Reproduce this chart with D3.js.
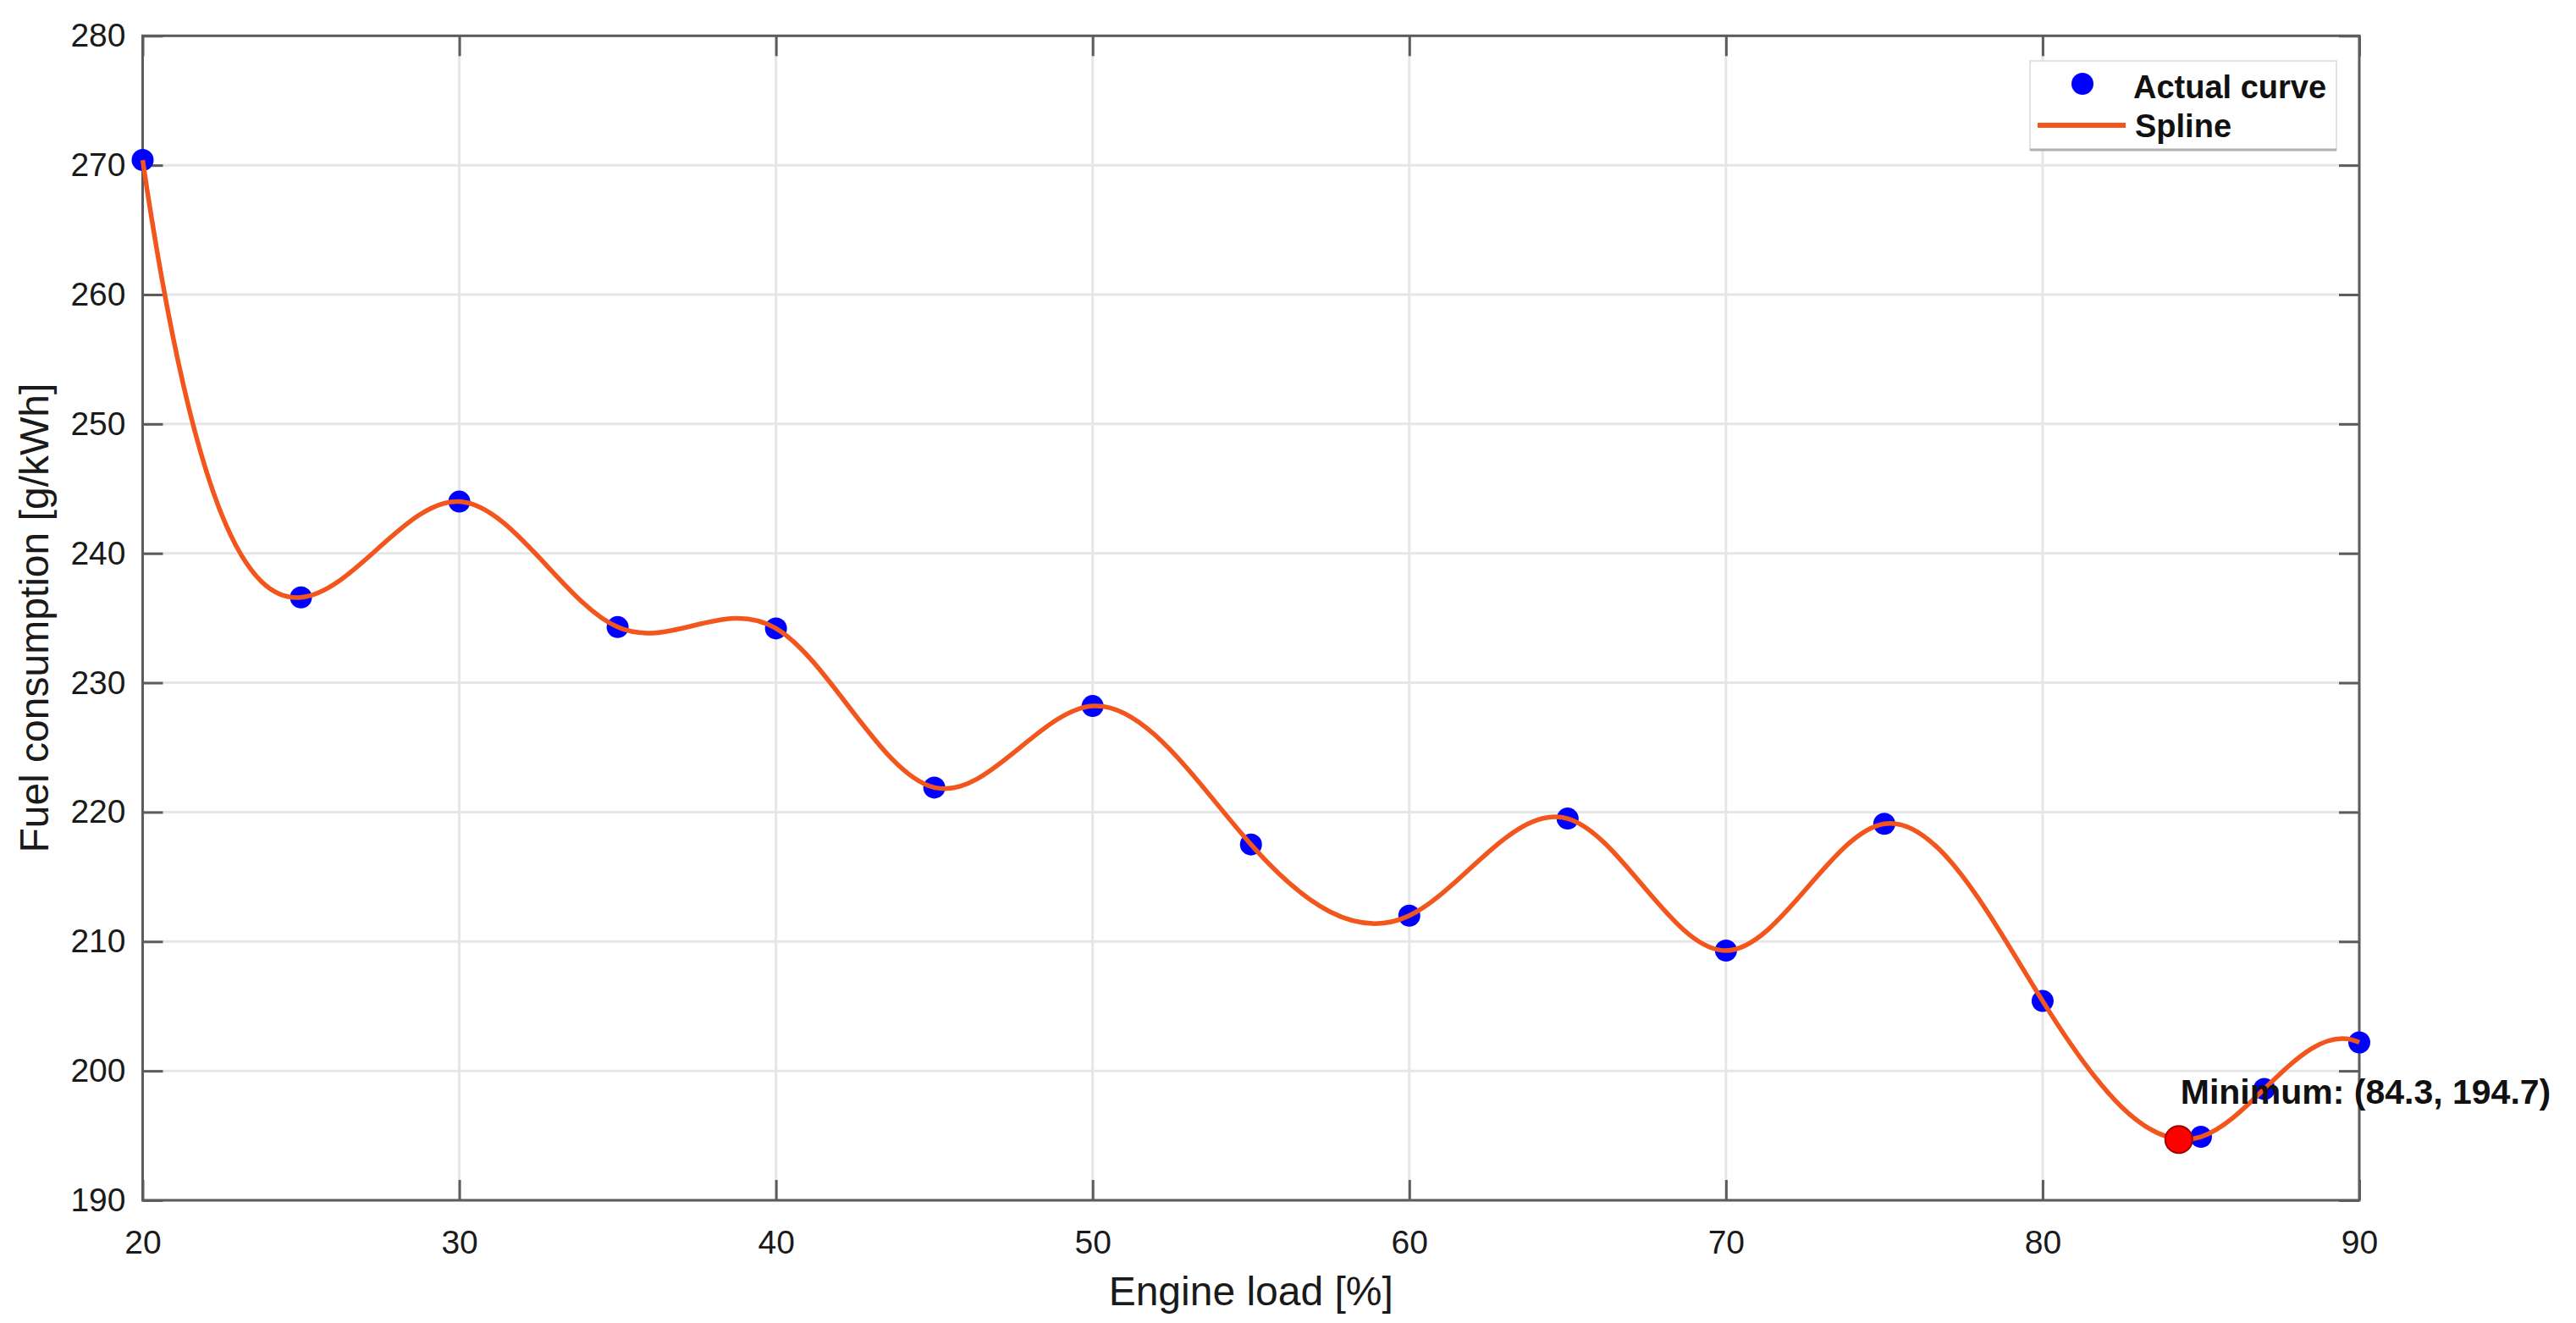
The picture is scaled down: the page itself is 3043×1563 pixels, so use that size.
<!DOCTYPE html>
<html>
<head>
<meta charset="utf-8">
<script src="https://cdn.jsdelivr.net/npm/d3@7"></script>
<style>
  html, body { margin: 0; padding: 0; background: #ffffff; }
  svg { display: block; }
  text { font-family: "Liberation Sans", Arial, Helvetica, sans-serif; }
</style>
</head>
<body>
<svg id="chart" width="3043" height="1563"></svg>
<script>
// ---------------- data ----------------
const engineLoad = [20, 25, 30, 35, 40, 45, 50, 55, 60, 65, 70, 75, 80, 85, 87, 90];
const fuelConsumption = [270.4, 236.6, 244.0, 234.3, 234.2, 221.9, 228.2, 217.5, 212.0, 219.5, 209.3, 219.1, 205.4, 194.9, 198.6, 202.2];
const minimumPoint = [84.3, 194.7];
const minimumLabel = "Minimum: (84.3, 194.7)";
const xTicks = [20, 30, 40, 50, 60, 70, 80, 90];
const yTicks = [190, 200, 210, 220, 230, 240, 250, 260, 270, 280];
const xDomain = [20, 90];
const yDomain = [190, 280];
const legendLabels = ["Actual curve", "Spline"];
const xLabel = "Engine load [%]";
const yLabel = "Fuel consumption [g/kWh]";

// ---------------- layout ----------------
const W = 3043, H = 1563;
const plot = { left: 168.5, right: 2787, top: 42.3, bottom: 1418 };
const axisColor = "#5c5c5c";
const gridColor = "#e6e6e6";
const splineColor = "#F2561D";
const tickLen = 24;

const svg = d3.select("#chart");
svg.append("rect").attr("width", W).attr("height", H).attr("fill", "#ffffff");

const x = d3.scaleLinear().domain(xDomain).range([plot.left, plot.right]);
const y = d3.scaleLinear().domain(yDomain).range([plot.bottom, plot.top]);

// grid
const grid = svg.append("g");
grid.selectAll("line.gx").data(xTicks).join("line")
  .attr("x1", d => x(d)).attr("x2", d => x(d))
  .attr("y1", plot.top).attr("y2", plot.bottom)
  .attr("stroke", gridColor).attr("stroke-width", 3);
grid.selectAll("line.gy").data(yTicks).join("line")
  .attr("y1", d => y(d)).attr("y2", d => y(d))
  .attr("x1", plot.left).attr("x2", plot.right)
  .attr("stroke", gridColor).attr("stroke-width", 3);

// axes with inward ticks
function styleAxis(g) {
  g.select(".domain").remove();
  g.selectAll(".tick line").attr("stroke", axisColor).attr("stroke-width", 3);
  g.selectAll(".tick text").attr("fill", "#1a1a1a").attr("font-size", 39);
}
const xAxisB = d3.axisBottom(x).tickValues(xTicks).tickSizeInner(-tickLen).tickSizeOuter(0).tickPadding(35).tickFormat(d3.format("d"));
const xAxisT = d3.axisTop(x).tickValues(xTicks).tickSizeInner(-tickLen).tickSizeOuter(0).tickFormat("");
const yAxisL = d3.axisLeft(y).tickValues(yTicks).tickSizeInner(-tickLen).tickSizeOuter(0).tickPadding(20).tickFormat(d3.format("d"));
const yAxisR = d3.axisRight(y).tickValues(yTicks).tickSizeInner(-tickLen).tickSizeOuter(0).tickFormat("");

svg.append("g").attr("transform", `translate(0,${plot.bottom})`).call(xAxisB).call(styleAxis);
svg.append("g").attr("transform", `translate(0,${plot.top})`).call(xAxisT).call(styleAxis);
svg.append("g").attr("transform", `translate(${plot.left},0)`).call(yAxisL).call(styleAxis);
svg.append("g").attr("transform", `translate(${plot.right},0)`).call(yAxisR).call(styleAxis);

// box
svg.append("rect")
  .attr("x", plot.left).attr("y", plot.top)
  .attr("width", plot.right - plot.left).attr("height", plot.bottom - plot.top)
  .attr("fill", "none").attr("stroke", axisColor).attr("stroke-width", 3);

// axis labels
svg.append("text")
  .attr("x", (plot.left + plot.right) / 2).attr("y", 1542)
  .attr("text-anchor", "middle").attr("font-size", 48).attr("fill", "#1a1a1a")
  .text(xLabel);
svg.append("text")
  .attr("transform", `translate(57,${(plot.top + plot.bottom) / 2}) rotate(-90)`)
  .attr("text-anchor", "middle").attr("font-size", 48).attr("fill", "#1a1a1a")
  .text(yLabel);

// not-a-knot cubic spline curve (like MATLAB spline) as a d3 curve factory
function curveNotAKnot(context) {
  return {
    areaStart() {}, areaEnd() {},
    lineStart() { this._x = []; this._y = []; },
    point(px, py) { this._x.push(+px); this._y.push(+py); },
    lineEnd() {
      const X = this._x, Y = this._y, n = X.length;
      if (n < 4) {
        context.moveTo(X[0], Y[0]);
        for (let i = 1; i < n; i++) context.lineTo(X[i], Y[i]);
        return;
      }
      const h = [];
      for (let i = 0; i < n - 1; i++) h.push(X[i + 1] - X[i]);
      const A = Array.from({ length: n }, () => new Array(n).fill(0));
      const b = new Array(n).fill(0);
      A[0][0] = h[1]; A[0][1] = -(h[0] + h[1]); A[0][2] = h[0];
      for (let i = 1; i < n - 1; i++) {
        A[i][i - 1] = h[i - 1];
        A[i][i] = 2 * (h[i - 1] + h[i]);
        A[i][i + 1] = h[i];
        b[i] = 6 * ((Y[i + 1] - Y[i]) / h[i] - (Y[i] - Y[i - 1]) / h[i - 1]);
      }
      A[n - 1][n - 3] = h[n - 2]; A[n - 1][n - 2] = -(h[n - 3] + h[n - 2]); A[n - 1][n - 1] = h[n - 3];
      for (let c = 0; c < n; c++) {
        let p = c;
        for (let r = c + 1; r < n; r++) if (Math.abs(A[r][c]) > Math.abs(A[p][c])) p = r;
        [A[c], A[p]] = [A[p], A[c]]; [b[c], b[p]] = [b[p], b[c]];
        for (let r = c + 1; r < n; r++) {
          const f = A[r][c] / A[c][c];
          if (f === 0) continue;
          for (let k = c; k < n; k++) A[r][k] -= f * A[c][k];
          b[r] -= f * b[c];
        }
      }
      const M = new Array(n).fill(0);
      for (let r = n - 1; r >= 0; r--) {
        let s = b[r];
        for (let k = r + 1; k < n; k++) s -= A[r][k] * M[k];
        M[r] = s / A[r][r];
      }
      const m = [];
      for (let i = 0; i < n - 1; i++) m.push((Y[i + 1] - Y[i]) / h[i] - h[i] * (2 * M[i] + M[i + 1]) / 6);
      m.push((Y[n - 1] - Y[n - 2]) / h[n - 2] + h[n - 2] * (M[n - 2] + 2 * M[n - 1]) / 6);
      context.moveTo(X[0], Y[0]);
      for (let i = 0; i < n - 1; i++) {
        context.bezierCurveTo(
          X[i] + h[i] / 3, Y[i] + m[i] * h[i] / 3,
          X[i + 1] - h[i] / 3, Y[i + 1] - m[i + 1] * h[i] / 3,
          X[i + 1], Y[i + 1]);
      }
    }
  };
}

const points = engineLoad.map((d, i) => ({ x: d, y: fuelConsumption[i] }));

// markers (actual curve)
svg.append("g").selectAll("circle").data(points).join("circle")
  .attr("cx", d => x(d.x)).attr("cy", d => y(d.y))
  .attr("r", 13).attr("fill", "#0000FF");

// spline line
const line = d3.line().x(d => x(d.x)).y(d => y(d.y)).curve(curveNotAKnot);
svg.append("path").datum(points)
  .attr("d", line).attr("fill", "none")
  .attr("stroke", splineColor).attr("stroke-width", 5.5)
  .attr("stroke-linejoin", "round");

// minimum marker
svg.append("circle")
  .attr("cx", x(minimumPoint[0])).attr("cy", y(minimumPoint[1]))
  .attr("r", 16).attr("fill", "#FF0000").attr("stroke", "#a00000").attr("stroke-width", 2);
svg.append("text")
  .attr("x", x(minimumPoint[0]) + 2).attr("y", y(minimumPoint[1]) - 42)
  .attr("font-size", 41).attr("font-weight", "bold").attr("fill", "#111")
  .text(minimumLabel);

// legend
const lg = svg.append("g");
lg.append("rect").attr("x", 2398).attr("y", 72).attr("width", 362).attr("height", 105)
  .attr("fill", "#ffffff").attr("stroke", "#e2e2e2").attr("stroke-width", 2);
lg.append("line").attr("x1", 2398).attr("x2", 2760).attr("y1", 177).attr("y2", 177)
  .attr("stroke", "#b0b0b0").attr("stroke-width", 3);
lg.append("circle").attr("cx", 2460).attr("cy", 99).attr("r", 13).attr("fill", "#0000FF");
lg.append("line").attr("x1", 2407).attr("x2", 2511).attr("y1", 148).attr("y2", 148)
  .attr("stroke", splineColor).attr("stroke-width", 6);
lg.append("text").attr("x", 2520).attr("y", 116).attr("font-size", 38).attr("font-weight", "bold")
  .attr("fill", "#111").text(legendLabels[0]);
lg.append("text").attr("x", 2522).attr("y", 162).attr("font-size", 38).attr("font-weight", "bold")
  .attr("fill", "#111").text(legendLabels[1]);
</script>
</body>
</html>
